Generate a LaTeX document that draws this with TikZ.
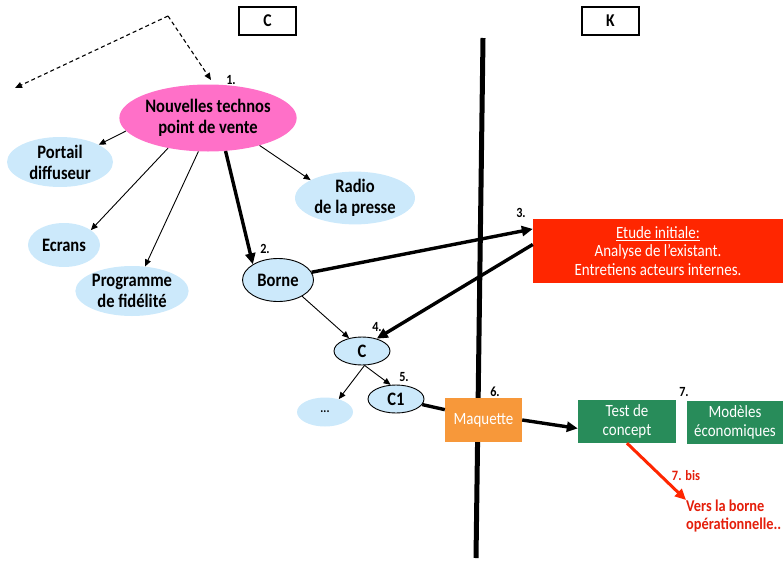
\documentclass[tikz,border=0pt]{standalone}
\usepackage{fontspec}
\setmainfont{Carlito}[FakeStretch=0.87]
\usepackage{tikz}
\usetikzlibrary{shapes.geometric}
\usetikzlibrary{arrows.meta}
\usetikzlibrary{calc}

\definecolor{rose}{RGB}{255,112,200}
\definecolor{ciel}{RGB}{204,233,251}
\definecolor{rougeetude}{RGB}{255,38,0}
\definecolor{maqorange}{RGB}{247,152,58}
\definecolor{vertbox}{RGB}{40,140,90}
\definecolor{texterouge}{RGB}{228,30,10}

\tikzset{
	bulle/.style={ellipse, fill=ciel, inner sep=0pt, align=center, font=\fontsize{19}{21}\selectfont\bfseries},
	boite/.style={rectangle, inner sep=0pt, align=center, text=white, font=\fontsize{17.2}{18.5}\selectfont},
	cadre/.style={draw, line width=2.4pt, minimum width=57pt, minimum height=28pt, inner sep=0pt, font=\fontsize{18}{20}\selectfont\bfseries},
	num/.style={inner sep=0pt, font=\fontsize{14}{16}\selectfont\bfseries},
	fine/.style={line width=0.9pt, -{Triangle[length=7pt,width=6pt]}},
	grosse/.style={line width=3.4pt, -{Triangle[length=11pt,width=10pt]}}
}

\begin{document}
\begin{tikzpicture}[x=1pt, y=-1pt]
		\useasboundingbox (0,0) rectangle (783,562);
		\coordinate (haut) at (483,38);
		\coordinate (bas) at (476,558);
		\draw[line width=5pt] (haut) -- (bas);

		\node[cadre] (colC) at (267.5,21) {C};
		\node[cadre] (colK) at (610.5,21) {K};

		\coordinate (sommet) at (168,16);
		\coordinate (gauche) at (15,88);
		\coordinate (droite) at (211,80);
		\draw[line width=1.1pt, dash pattern=on 4pt off 3pt, -{Triangle[length=7pt,width=6pt]}] (sommet) -- (gauche);
		\draw[line width=1.1pt, dash pattern=on 4pt off 3pt, -{Triangle[length=7pt,width=6pt]}] (sommet) -- (droite);

		\node[bulle, fill=rose, minimum width=176pt, minimum height=67pt] (nouv) at (208,118) {Nouvelles technos\\point de vente};
		\node[bulle, minimum width=106pt, minimum height=50pt] (portail) at (60,162) {Portail\\diffuseur};
		\node[bulle, minimum width=72pt, minimum height=44pt] (ecrans) at (64,245) {Ecrans};
		\node[bulle, minimum width=106pt, minimum height=50pt] (fidel) at (132,291) {Programme\\de fidélité};
		\node[bulle, minimum width=120pt, minimum height=50pt] (radio) at (355,198) {Radio\\de la presse};
		\node[bulle, minimum width=56pt, minimum height=29pt, font=\fontsize{13}{15}\selectfont\bfseries] (autres) at (325,412) {...};
		\node[bulle, draw, line width=0.9pt, minimum width=71pt, minimum height=43pt] (borne) at (278,280) {Borne};
		\node[bulle, draw, line width=0.9pt, minimum width=56pt, minimum height=28pt] (cnode) at (362,351) {C};
		\node[bulle, draw, line width=0.9pt, minimum width=56pt, minimum height=28pt] (cun) at (396,399) {C1};

		\node[boite, fill=rougeetude, minimum width=250pt, minimum height=64pt] (etude) at (658,251) {\underline{Etude initiale:}\\Analyse de l’existant.\\Entretiens acteurs internes.};
		\node[boite, fill=maqorange, minimum width=77pt, minimum height=44pt] (maq) at (483.5,420) {Maquette};
		\node[boite, fill=vertbox, minimum width=98pt, minimum height=43pt] (test) at (627,421.5) {Test de\\concept};
		\node[boite, fill=vertbox, minimum width=96pt, minimum height=43pt] (modeles) at (735,422.5) {Modèles\\économiques};

		\foreach \nom/\txt/\x/\y in {n1/1./231/80, n2/2./265/249, n3/3./521/213, n4/4./377/327, n5/5./404/377, n6/6./495/392, n7/7./684/392}
		\node[num] (\nom) at (\x,\y) {\txt};
		\node[num, text=texterouge, font=\fontsize{14.3}{16}\selectfont\bfseries] (bis) at (686,476) {7. bis};
		\node[inner sep=0pt, anchor=north west, align=left, text=texterouge, font=\fontsize{16.5}{18}\selectfont\bfseries] (vers) at (686,500) {Vers la borne\\opérationnelle..};

		\draw[fine] (nouv.189) -- (portail.24);
		\draw[fine] (nouv.217) -- (ecrans.29);
		\draw[fine] (nouv.254) -- (fidel.62);
		\draw[fine] (nouv.332) -- (radio.158);
		\draw[grosse] (nouv.298) -- (borne.148);
		\draw[grosse] (borne.13) -- (etude.170);
		\draw[grosse] (etude.177) -- (cnode.40);
		\draw[fine] (borne.-34) -- (cnode.135);
		\draw[fine] (cnode.-80) -- (autres.43);
		\draw[fine] (cnode.-80) -- (cun.111);
		\draw[line width=3.4pt] (cun.-12) -- (maq.165);
		\draw[grosse] (maq.east) -- (test.188);
		\draw[line width=3pt, rougeetude, -{Triangle[length=11pt,width=10pt]}] (test.south) -- (vers.north west);
\end{tikzpicture}
\end{document}
